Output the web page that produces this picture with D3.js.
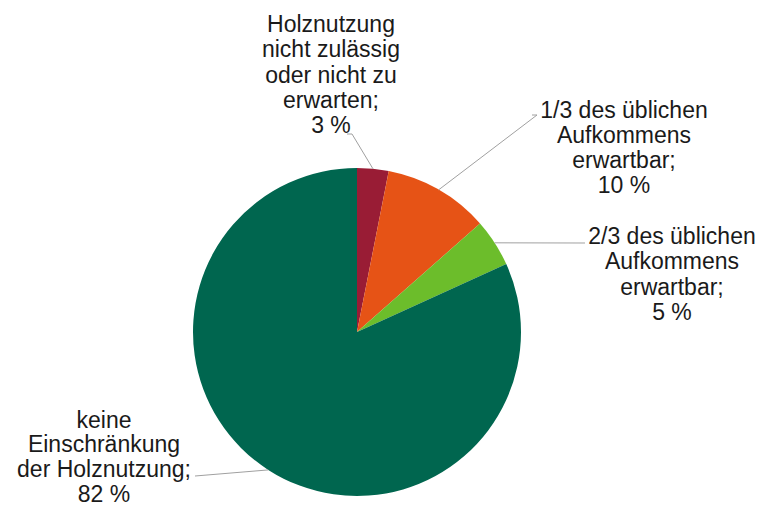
<!DOCTYPE html>
<html>
<head>
<meta charset="utf-8">
<script src="https://cdn.jsdelivr.net/npm/d3@7"></script>
<style>
  html, body { margin: 0; padding: 0; background: #fff; }
  svg text { font-family: "Liberation Sans", Arial, sans-serif; fill: #1a1a1a; }
</style>
</head>
<body>
<div id="pie"></div>
<script>
// categories (label text, line breaks as in the chart)
var categories = [
  "Holznutzung\nnicht zulässig\noder nicht zu\nerwarten;",
  "1/3 des üblichen\nAufkommens\nerwartbar;",
  "2/3 des üblichen\nAufkommens\nerwartbar;",
  "keine\nEinschränkung\nder Holznutzung;"
];
// share of area in percent
var shares = [3.1, 10.4, 4.7, 81.8];
var colors = ["#991c35", "#e65316", "#6cbd2b", "#00664f"];

const width = 765, height = 507;
const center = { x: 357, y: 332 };
const radius = 164;

// label placement: text centre x, first baseline, line step, leader end points
var labelLayout = [
  { x: 331, y: 32, step: 25.3, leader: [[347, 134], [352, 134]] },
  { x: 624, y: 117.5, step: 25.3, leader: [[532, 115], [537, 115]] },
  { x: 672, y: 244, step: 25.3, leader: [[585, 243]] },
  { x: 104, y: 427.5, step: 24.8, leader: [[195, 476]] }
];

var svg = d3.select("#pie")
  .append("svg")
  .attr("width", width)
  .attr("height", height);

function drawChart() {
  var pie = d3.pie().sort(null).value((d) => d);
  var arcs = pie(shares);

  var arc = d3.arc().innerRadius(0).outerRadius(radius);

  var g = svg.append("g")
    .attr("transform", "translate(" + center.x + "," + center.y + ")");

  g.selectAll("path")
    .data(arcs)
    .join("path")
    .attr("d", arc)
    .attr("fill", (d, i) => colors[i]);

  // leader lines from slice edge to label
  var edge = d3.arc().innerRadius(radius).outerRadius(radius);
  svg.selectAll("polyline.leader")
    .data(arcs)
    .join("polyline")
    .attr("class", "leader")
    .attr("points", (d, i) => {
      var c = edge.centroid(d);
      var pts = [[c[0] + center.x, c[1] + center.y]].concat(labelLayout[i].leader.slice().reverse());
      return pts.map((p) => p.join(",")).join(" ");
    })
    .attr("fill", "none")
    .attr("stroke", "#a0a0a0")
    .attr("stroke-width", 1);

  // labels
  var labels = svg.selectAll("text.label")
    .data(arcs)
    .join("text")
    .attr("class", "label")
    .attr("text-anchor", "middle")
    .attr("font-size", 23);

  labels.each(function (d, i) {
    var lay = labelLayout[i];
    var lines = categories[i].split("\n").concat([Math.round(shares[i]) + " %"]);
    d3.select(this).selectAll("tspan")
      .data(lines)
      .join("tspan")
      .attr("x", lay.x)
      .attr("y", (l, j) => lay.y + j * lay.step)
      .text((l) => l);
  });
}

drawChart();
</script>
</body>
</html>
